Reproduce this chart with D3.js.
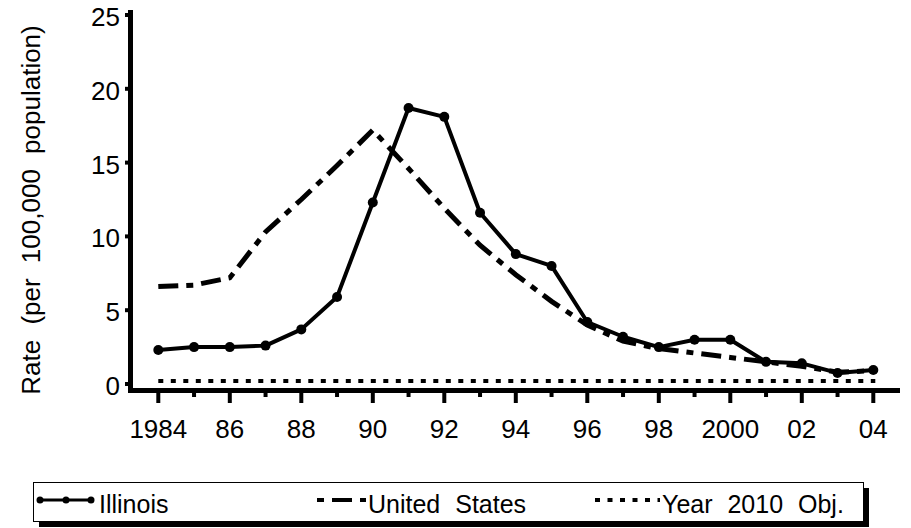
<!DOCTYPE html>
<html>
<head>
<meta charset="utf-8">
<script src="https://cdn.jsdelivr.net/npm/d3@7"></script>
<style>
    body { margin: 0; background: #fff; }
    svg text { font-family: "Liberation Sans", Arial, sans-serif; fill: #000; }
</style>
</head>
<body>
<svg id="chart" width="911" height="528"></svg>
<script>
// chart data
const years = [1984, 1985, 1986, 1987, 1988, 1989, 1990, 1991, 1992, 1993, 1994,
               1995, 1996, 1997, 1998, 1999, 2000, 2001, 2002, 2003, 2004];
const illinois = [2.3, 2.5, 2.5, 2.6, 3.7, 5.9, 12.3, 18.7, 18.1, 11.6, 8.8,
                  8.0, 4.2, 3.2, 2.5, 3.0, 3.0, 1.5, 1.4, 0.75, 0.95];
const unitedStates = [6.6, 6.7, 7.2, 10.3, 12.5, 14.8, 17.2, 14.6, 11.9, 9.4, 7.4,
                      5.6, 4.0, 2.9, 2.4, 2.1, 1.8, 1.5, 1.2, 0.8, 0.9];
const objective2010 = 0.2;
const yTicks = [0, 5, 10, 15, 20, 25];
const xTickLabels = {1984: '1984', 1986: '86', 1988: '88', 1990: '90', 1992: '92', 1994: '94',
                     1996: '96', 1998: '98', 2000: '2000', 2002: '02', 2004: '04'};
const legendNames = ['Illinois', 'United States', 'Year 2010 Obj.'];

const svg = d3.select('#chart');

const x = d3.scaleLinear().domain([1984, 2004]).range([158.3, 873.3]);
const y = d3.scaleLinear().domain([0, 25]).range([384, 15]);

const usDash = '20,8,7,8';
const dotDash = '5,7.5';

// y axis
svg.append('line')
    .attr('x1', 130.5).attr('x2', 130.5)
    .attr('y1', 10).attr('y2', 393)
    .attr('stroke', '#000').attr('stroke-width', 5);

svg.selectAll('.ytick')
    .data(yTicks)
    .join('line')
    .attr('class', 'ytick')
    .attr('x1', 125).attr('x2', 131)
    .attr('y1', d => y(d)).attr('y2', d => y(d))
    .attr('stroke', '#000').attr('stroke-width', 4);

svg.selectAll('.ylab')
    .data(yTicks)
    .join('text')
    .attr('class', 'ylab')
    .attr('x', 120)
    .attr('y', d => y(d) + 11)
    .attr('text-anchor', 'end')
    .style('font-size', '26px')
    .text(d => d);

// x axis
svg.append('line')
    .attr('x1', 128).attr('x2', 900)
    .attr('y1', 390.5).attr('y2', 390.5)
    .attr('stroke', '#000').attr('stroke-width', 5);

svg.selectAll('.xtick')
    .data(years)
    .join('line')
    .attr('class', 'xtick')
    .attr('x1', d => x(d)).attr('x2', d => x(d))
    .attr('y1', 392)
    .attr('y2', d => d % 2 === 0 ? 403 : 397)
    .attr('stroke', '#000').attr('stroke-width', 4);

svg.selectAll('.xlab')
    .data(years.filter(d => xTickLabels[d]))
    .join('text')
    .attr('class', 'xlab')
    .attr('x', d => x(d))
    .attr('y', 438)
    .attr('text-anchor', 'middle')
    .style('font-size', '26px')
    .text(d => xTickLabels[d]);

// axis title
svg.append('text')
    .attr('transform', 'translate(40,210) rotate(-90)')
    .attr('text-anchor', 'middle')
    .style('font-size', '26px')
    .style('word-spacing', '8px')
    .text('Rate (per 100,000 population)');

// objective line
svg.append('line')
    .attr('x1', x(1984)).attr('x2', x(2004) + 2)
    .attr('y1', y(objective2010)).attr('y2', y(objective2010))
    .attr('stroke', '#000').attr('stroke-width', 4)
    .attr('stroke-dasharray', dotDash);

const line = d3.line()
    .x((d, i) => x(years[i]))
    .y(d => y(d));

svg.append('path')
    .attr('d', line(unitedStates))
    .attr('fill', 'none')
    .attr('stroke', '#000').attr('stroke-width', 5)
    .attr('stroke-dasharray', usDash);

svg.append('path')
    .attr('d', line(illinois))
    .attr('fill', 'none')
    .attr('stroke', '#000').attr('stroke-width', 4)
    .attr('stroke-linejoin', 'round');

svg.selectAll('.dot')
    .data(illinois)
    .join('circle')
    .attr('class', 'dot')
    .attr('cx', (d, i) => x(years[i]))
    .attr('cy', d => y(d))
    .attr('r', 5);

// legend
const legend = svg.append('g');
legend.append('rect')
    .attr('x', 39).attr('y', 488)
    .attr('width', 830).attr('height', 39)
    .attr('fill', '#000');
legend.append('rect')
    .attr('x', 33.5).attr('y', 482.5)
    .attr('width', 830).attr('height', 39)
    .attr('fill', '#fff').attr('stroke', '#000').attr('stroke-width', 1);

const ly = 500;
legend.append('line')
    .attr('x1', 40).attr('x2', 91).attr('y1', ly).attr('y2', ly)
    .attr('stroke', '#000').attr('stroke-width', 3);
legend.selectAll('.ldot')
    .data([40, 66, 91])
    .join('circle')
    .attr('class', 'ldot')
    .attr('cx', d => d).attr('cy', ly).attr('r', 3.5);

legend.append('line')
    .attr('x1', 317).attr('x2', 366).attr('y1', ly).attr('y2', ly)
    .attr('stroke', '#000').attr('stroke-width', 4)
    .attr('stroke-dasharray', '7,8,20,8,7');

legend.append('line')
    .attr('x1', 595).attr('x2', 660).attr('y1', ly).attr('y2', ly)
    .attr('stroke', '#000').attr('stroke-width', 4)
    .attr('stroke-dasharray', dotDash);

legend.selectAll('.ltext')
    .data(legendNames)
    .join('text')
    .attr('class', 'ltext')
    .attr('x', (d, i) => [99, 368, 662][i])
    .attr('y', 513)
    .style('font-size', '25px')
    .style('word-spacing', '8px')
    .text(d => d);
</script>
</body>
</html>
